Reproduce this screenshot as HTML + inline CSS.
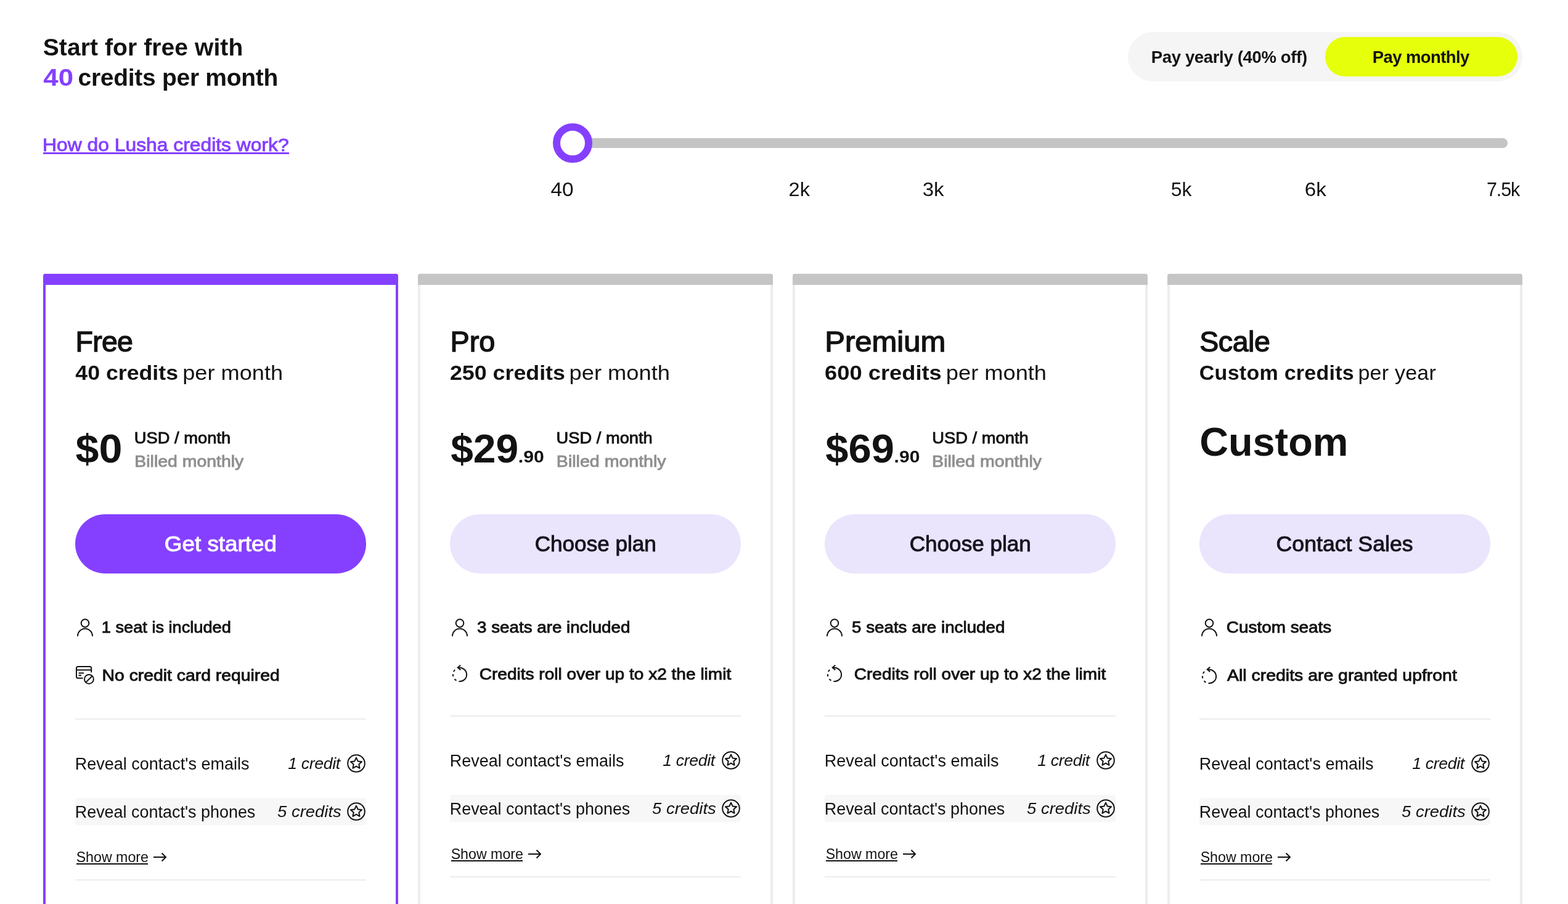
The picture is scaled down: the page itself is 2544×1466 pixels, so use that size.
<!DOCTYPE html>
<html lang="en">
<head>
<meta charset="utf-8">
<title>Lusha pricing</title>
<style>
*{box-sizing:border-box;margin:0;padding:0}
html,body{width:2544px;height:1466px;overflow:hidden;background:#fff}
body{position:relative;font-family:"Liberation Sans",Arial,Helvetica,sans-serif;color:#121212}
.t{position:absolute;white-space:pre;line-height:1;display:block;font-weight:400;font-style:normal;transform-origin:0 0}
.b{font-weight:700}
.m{-webkit-text-stroke:0.9px currentColor}
.m2{-webkit-text-stroke:1.4px currentColor}
.m3{-webkit-text-stroke:0.95px currentColor}
.i{font-style:italic}
.abs{position:absolute}
a{color:inherit;text-decoration:none}
.toggle{position:absolute;left:1830px;top:52px;width:640px;height:80px;border-radius:40px;background:#f5f5f5}
.toggle .on{position:absolute;left:320px;top:8px;width:312px;height:64px;border-radius:32px;background:#e6ff0a}
.track{position:absolute;left:897px;top:224px;width:1549px;height:16px;border-radius:8px;background:#c4c4c4}
.thumb{position:absolute;left:897px;top:200px;width:64px;height:64px;border-radius:50%;border:12px solid #8540ff;background:#fff}
.card{position:absolute;top:444px;width:576px;height:1100px;border-left:4px solid #ededed;border-right:4px solid #ededed;border-radius:4px 4px 0 0}
.card.sel{border-color:#8540ff}
.bar{position:absolute;top:444px;width:576px;height:18px;border-radius:4px 4px 0 0;background:#c5c5c5}
.bar.sel{background:#8540ff}
.btn{position:absolute;top:834px;width:472px;height:96px;border-radius:48px;background:#ebe4fd}
.btn.pri{background:#8540ff}
.hr{position:absolute;width:472px;height:2px;background:#ececec}
.rowbg{position:absolute;width:472px;height:44px;border-radius:4px;background:#f7f7f7}
svg{position:absolute;overflow:visible}
@media (max-width:1400px){html{zoom:.5}}
</style>
</head>
<body>
<header>
<h1>
<span class="t b" style="left:69.74px;top:57.00px;font-size:39px;letter-spacing:0.09px;">Start for free with</span>
<span class="t b" style="left:70px;top:106.00px;font-size:39.5px;color:#8540ff;transform:translateX(0.34px) scaleX(1.1093);">40</span>
<span class="t b" style="left:126.55px;top:106.00px;font-size:39px;letter-spacing:-0.29px;">credits per month</span>
</h1>
<a class="t m" style="left:69px;top:220.01px;font-size:30px;color:#8540ff;transform:translateX(0.08px) scaleX(1.0603);">How do Lusha credits work?</a>
<div class="abs" style="left:70px;top:247px;width:399px;height:3px;background:#8540ff"></div>
<div class="toggle"><div class="on"></div></div>
<span class="t b" style="left:1867.69px;top:79.01px;font-size:27.5px;letter-spacing:-0.34px;">Pay yearly (40% off)</span>
<span class="t b" style="left:2226.69px;top:79.01px;font-size:27.5px;letter-spacing:-0.59px;">Pay monthly</span>
<div class="track"></div><div class="thumb"></div>
<span class="t" style="left:893px;top:292.01px;font-size:30.5px;transform:translateX(0.44px) scaleX(1.0977);">40</span>
<span class="t" style="left:1279px;top:292.01px;font-size:30.5px;transform:translateX(0.57px) scaleX(1.0668);">2k</span>
<span class="t" style="left:1496px;top:292.01px;font-size:30.5px;transform:translateX(0.66px) scaleX(1.0863);">3k</span>
<span class="t" style="left:1899px;top:292.01px;font-size:30.5px;transform:translateX(0.84px) scaleX(1.0477);">5k</span>
<span class="t" style="left:2116px;top:292.01px;font-size:30.5px;transform:translateX(0.68px) scaleX(1.0880);">6k</span>
<span class="t" style="left:2412.01px;top:292.01px;font-size:30.5px;letter-spacing:-1.14px;">7.5k</span>
</header>
<section>
<div class="card sel" style="left:70px"></div><div class="bar sel" style="left:70px"></div>
<h2 class="t m2" style="left:122.46px;top:531.01px;font-size:46.5px;letter-spacing:-0.72px;">Free</h2>
<p>
<b class="t b" style="left:122px;top:587.00px;font-size:34px;transform:translateX(0.27px) scaleX(1.0501);">40 credits</b>
<span class="t" style="left:296px;top:587.00px;font-size:34px;transform:translateX(0.25px) scaleX(1.0638);">per month</span>
</p>
<span class="t b" style="left:122px;top:696.01px;font-size:64px;transform:translateX(0.59px) scaleX(1.0662);">$0</span>
<span class="t m" style="left:217px;top:697.01px;font-size:26.5px;transform:translateX(0.76px) scaleX(1.0311);">USD / month</span>
<span class="t m" style="left:218px;top:735.01px;font-size:26px;color:#8f8f8f;transform:translateX(0.34px) scaleX(1.0933);">Billed monthly</span>
<div class="btn pri" style="left:122px"></div>
<a class="t m3" style="left:266px;top:864.01px;font-size:35px;color:#fff;transform:translateX(0.83px) scaleX(1.0525);">Get started</a>
<svg style="left:124px;top:1002.5px" width="28" height="30" viewBox="0 0 28 30" fill="none" stroke="#121212" stroke-width="2"><circle cx="14" cy="7.6" r="6.3"/><path d="M2 28.700v-.2a12 12 0 0 1 24 0v.2"/></svg>
<span class="t m" style="left:164px;top:1004.01px;font-size:26.5px;transform:translateX(0.79px) scaleX(1.0257);">1 seat is included</span>
<svg style="left:123.2px;top:1080.3px" width="31" height="31" viewBox="0 0 31 31" fill="none" stroke="#121212" stroke-width="2"><path d="M11.500 19.800H3.500A2.500 2.500 0 0 1 1 17.300V3.500A2.500 2.500 0 0 1 3.500 1H22.700A2.500 2.500 0 0 1 25.200 3.500V10.500"/><path d="M1 6.500H25.200"/><path d="M4.500 11.500H13"/><path d="M4.500 15.300H9"/><circle cx="21.400" cy="21.400" r="7.400"/><path d="M16.200 26.600L26.600 16.200"/></svg>
<span class="t m" style="left:165px;top:1082.00px;font-size:26.5px;transform:translateX(0.56px) scaleX(1.0690);">No credit card required</span>
<div class="hr" style="left:122px;top:1165px"></div>
<span class="t" style="left:121.71px;top:1226.00px;font-size:27px;">Reveal contact's emails</span>
<i class="t i" style="left:467.27px;top:1225.00px;font-size:26.7px;letter-spacing:-0.37px;">1 credit</i>
<svg style="left:563px;top:1223px" width="30" height="30" viewBox="0 0 30 30" fill="none" stroke="#121212" stroke-width="2" stroke-linejoin="round"><circle cx="15" cy="15" r="13.800"/><polygon points="15.00,5.60 17.65,11.46 24.04,12.16 19.28,16.49 20.58,22.79 15.00,19.60 9.42,22.79 10.72,16.49 5.96,12.16 12.35,11.46"/></svg>
<div class="rowbg" style="left:122px;top:1294px"></div>
<span class="t" style="left:121px;top:1304.00px;font-size:27px;transform:translateX(0.71px) scaleX(0.9976);">Reveal contact's phones</span>
<i class="t i" style="left:450px;top:1303.01px;font-size:26.7px;transform:translateX(0.12px) scaleX(1.0274);">5 credits</i>
<svg style="left:563px;top:1301px" width="30" height="30" viewBox="0 0 30 30" fill="none" stroke="#121212" stroke-width="2" stroke-linejoin="round"><circle cx="15" cy="15" r="13.800"/><polygon points="15.00,5.60 17.65,11.46 24.04,12.16 19.28,16.49 20.58,22.79 15.00,19.60 9.42,22.79 10.72,16.49 5.96,12.16 12.35,11.46"/></svg>
<a class="t" style="left:123.65px;top:1379.00px;font-size:23.2px;">Show more</a>
<div class="abs" style="left:124px;top:1400px;width:116px;height:2px;background:#121212"></div>
<svg style="left:249px;top:1382px" width="22" height="16" viewBox="0 0 22 16" fill="none" stroke="#121212" stroke-width="2"><path d="M0 8H20"/><path d="M13.500 1.500L20 8L13.500 14.500"/></svg>
<div class="hr" style="left:122px;top:1426px"></div>
</section>
<section>
<div class="card" style="left:678px"></div><div class="bar" style="left:678px"></div>
<h2 class="t m2" style="left:730px;top:531.01px;font-size:46.5px;transform:translateX(0.56px) scaleX(1.0055);">Pro</h2>
<p>
<b class="t b" style="left:729px;top:587.00px;font-size:34px;transform:translateX(0.98px) scaleX(1.0520);">250 credits</b>
<span class="t" style="left:923px;top:587.00px;font-size:34px;transform:translateX(0.49px) scaleX(1.0680);">per month</span>
</p>
<span class="t b" style="left:731px;top:696.01px;font-size:64px;transform:translateX(0.14px) scaleX(1.0308);">$29</span>
<span class="t b" style="left:840px;top:727.00px;font-size:27.3px;transform:translateX(0.87px) scaleX(1.1072);">.90</span>
<span class="t m" style="left:902px;top:697.01px;font-size:26.5px;transform:translateX(0.58px) scaleX(1.0294);">USD / month</span>
<span class="t m" style="left:902px;top:735.01px;font-size:26px;color:#8f8f8f;transform:translateX(0.86px) scaleX(1.0982);">Billed monthly</span>
<div class="btn" style="left:730px"></div>
<a class="t m3" style="left:867px;top:864.01px;font-size:35px;color:#17131f;transform:translateX(0.70px) scaleX(1.0031);">Choose plan</a>
<svg style="left:732px;top:1002.5px" width="28" height="30" viewBox="0 0 28 30" fill="none" stroke="#121212" stroke-width="2"><circle cx="14" cy="7.6" r="6.3"/><path d="M2 28.700v-.2a12 12 0 0 1 24 0v.2"/></svg>
<span class="t m" style="left:774px;top:1004.01px;font-size:26.5px;transform:translateX(0.12px) scaleX(1.0465);">3 seats are included</span>
<svg style="left:729.70px;top:1075.90px" width="32" height="34" viewBox="-16 -18 32 34" fill="none" stroke="#121212" stroke-width="2"><path d="M-3.25 -10.61A11.1 11.1 0 1 1 -1.54 10.99"/><path d="M-5.55 9.61A11.1 11.1 0 0 1 -8.50 7.13"/><path d="M-10.67 3.06A11.1 11.1 0 0 1 -11.07 -0.77"/><path d="M-10.06 -4.69A11.1 11.1 0 0 1 -7.85 -7.85"/><path d="M1.300 -15.300L-3.300 -11.500L1.300 -7.600" stroke-linejoin="miter"/></svg>
<span class="t m" style="left:777px;top:1080.01px;font-size:26.5px;transform:translateX(0.69px) scaleX(1.0588);">Credits roll over up to x2 the limit</span>
<div class="hr" style="left:730px;top:1160px"></div>
<span class="t" style="left:729.71px;top:1221.00px;font-size:27px;">Reveal contact's emails</span>
<i class="t i" style="left:1075.27px;top:1220.00px;font-size:26.7px;letter-spacing:-0.37px;">1 credit</i>
<svg style="left:1171px;top:1218px" width="30" height="30" viewBox="0 0 30 30" fill="none" stroke="#121212" stroke-width="2" stroke-linejoin="round"><circle cx="15" cy="15" r="13.800"/><polygon points="15.00,5.60 17.65,11.46 24.04,12.16 19.28,16.49 20.58,22.79 15.00,19.60 9.42,22.79 10.72,16.49 5.96,12.16 12.35,11.46"/></svg>
<div class="rowbg" style="left:730px;top:1289px"></div>
<span class="t" style="left:729px;top:1299.00px;font-size:27px;transform:translateX(0.71px) scaleX(0.9976);">Reveal contact's phones</span>
<i class="t i" style="left:1058px;top:1298.01px;font-size:26.7px;transform:translateX(0.12px) scaleX(1.0274);">5 credits</i>
<svg style="left:1171px;top:1296px" width="30" height="30" viewBox="0 0 30 30" fill="none" stroke="#121212" stroke-width="2" stroke-linejoin="round"><circle cx="15" cy="15" r="13.800"/><polygon points="15.00,5.60 17.65,11.46 24.04,12.16 19.28,16.49 20.58,22.79 15.00,19.60 9.42,22.79 10.72,16.49 5.96,12.16 12.35,11.46"/></svg>
<a class="t" style="left:731.65px;top:1374.00px;font-size:23.2px;">Show more</a>
<div class="abs" style="left:732px;top:1395px;width:116px;height:2px;background:#121212"></div>
<svg style="left:857px;top:1377px" width="22" height="16" viewBox="0 0 22 16" fill="none" stroke="#121212" stroke-width="2"><path d="M0 8H20"/><path d="M13.500 1.500L20 8L13.500 14.500"/></svg>
<div class="hr" style="left:730px;top:1421px"></div>
</section>
<section>
<div class="card" style="left:1286px"></div><div class="bar" style="left:1286px"></div>
<h2 class="t m2" style="left:1338px;top:531.01px;font-size:46.5px;transform:translateX(0.26px) scaleX(1.0540);">Premium</h2>
<p>
<b class="t b" style="left:1338px;top:587.00px;font-size:34px;transform:translateX(0.05px) scaleX(1.0678);">600 credits</b>
<span class="t" style="left:1534px;top:587.00px;font-size:34px;transform:translateX(0.83px) scaleX(1.0661);">per month</span>
</p>
<span class="t b" style="left:1339px;top:696.01px;font-size:64px;transform:translateX(0.26px) scaleX(1.0450);">$69</span>
<span class="t b" style="left:1450px;top:727.00px;font-size:27.3px;transform:translateX(0.62px) scaleX(1.0990);">.90</span>
<span class="t m" style="left:1512px;top:697.01px;font-size:26.5px;transform:translateX(0.36px) scaleX(1.0308);">USD / month</span>
<span class="t m" style="left:1512px;top:735.01px;font-size:26px;color:#8f8f8f;transform:translateX(0.06px) scaleX(1.0997);">Billed monthly</span>
<div class="btn" style="left:1338px"></div>
<a class="t m3" style="left:1475px;top:864.01px;font-size:35px;color:#17131f;transform:translateX(0.70px) scaleX(1.0031);">Choose plan</a>
<svg style="left:1340px;top:1002.5px" width="28" height="30" viewBox="0 0 28 30" fill="none" stroke="#121212" stroke-width="2"><circle cx="14" cy="7.6" r="6.3"/><path d="M2 28.700v-.2a12 12 0 0 1 24 0v.2"/></svg>
<span class="t m" style="left:1382px;top:1004.01px;font-size:26.5px;transform:translateX(0.01px) scaleX(1.0472);">5 seats are included</span>
<svg style="left:1337.70px;top:1075.90px" width="32" height="34" viewBox="-16 -18 32 34" fill="none" stroke="#121212" stroke-width="2"><path d="M-3.25 -10.61A11.1 11.1 0 1 1 -1.54 10.99"/><path d="M-5.55 9.61A11.1 11.1 0 0 1 -8.50 7.13"/><path d="M-10.67 3.06A11.1 11.1 0 0 1 -11.07 -0.77"/><path d="M-10.06 -4.69A11.1 11.1 0 0 1 -7.85 -7.85"/><path d="M1.300 -15.300L-3.300 -11.500L1.300 -7.600" stroke-linejoin="miter"/></svg>
<span class="t m" style="left:1385px;top:1080.01px;font-size:26.5px;transform:translateX(0.69px) scaleX(1.0588);">Credits roll over up to x2 the limit</span>
<div class="hr" style="left:1338px;top:1160px"></div>
<span class="t" style="left:1337.71px;top:1221.00px;font-size:27px;">Reveal contact's emails</span>
<i class="t i" style="left:1683.27px;top:1220.00px;font-size:26.7px;letter-spacing:-0.37px;">1 credit</i>
<svg style="left:1779px;top:1218px" width="30" height="30" viewBox="0 0 30 30" fill="none" stroke="#121212" stroke-width="2" stroke-linejoin="round"><circle cx="15" cy="15" r="13.800"/><polygon points="15.00,5.60 17.65,11.46 24.04,12.16 19.28,16.49 20.58,22.79 15.00,19.60 9.42,22.79 10.72,16.49 5.96,12.16 12.35,11.46"/></svg>
<div class="rowbg" style="left:1338px;top:1289px"></div>
<span class="t" style="left:1337px;top:1299.00px;font-size:27px;transform:translateX(0.71px) scaleX(0.9976);">Reveal contact's phones</span>
<i class="t i" style="left:1666px;top:1298.01px;font-size:26.7px;transform:translateX(0.12px) scaleX(1.0274);">5 credits</i>
<svg style="left:1779px;top:1296px" width="30" height="30" viewBox="0 0 30 30" fill="none" stroke="#121212" stroke-width="2" stroke-linejoin="round"><circle cx="15" cy="15" r="13.800"/><polygon points="15.00,5.60 17.65,11.46 24.04,12.16 19.28,16.49 20.58,22.79 15.00,19.60 9.42,22.79 10.72,16.49 5.96,12.16 12.35,11.46"/></svg>
<a class="t" style="left:1339.65px;top:1374.00px;font-size:23.2px;">Show more</a>
<div class="abs" style="left:1340px;top:1395px;width:116px;height:2px;background:#121212"></div>
<svg style="left:1465px;top:1377px" width="22" height="16" viewBox="0 0 22 16" fill="none" stroke="#121212" stroke-width="2"><path d="M0 8H20"/><path d="M13.500 1.500L20 8L13.500 14.500"/></svg>
<div class="hr" style="left:1338px;top:1421px"></div>
</section>
<section>
<div class="card" style="left:1894px"></div><div class="bar" style="left:1894px"></div>
<h2 class="t m2" style="left:1946.28px;top:531.01px;font-size:46.5px;letter-spacing:-0.44px;">Scale</h2>
<p>
<b class="t b" style="left:1945.78px;top:587.00px;font-size:34px;letter-spacing:0.27px;">Custom credits</b>
<span class="t" style="left:2203.38px;top:587.00px;font-size:34px;letter-spacing:0.24px;">per year</span>
</p>
<span class="t b" style="left:1946px;top:684.01px;font-size:65px;transform:translateX(0.20px) scaleX(0.9969);">Custom</span>
<div class="btn" style="left:1946px"></div>
<a class="t m3" style="left:2070px;top:864.01px;font-size:35px;color:#17131f;transform:translateX(0.57px) scaleX(1.0188);">Contact Sales</a>
<svg style="left:1948px;top:1002.5px" width="28" height="30" viewBox="0 0 28 30" fill="none" stroke="#121212" stroke-width="2"><circle cx="14" cy="7.6" r="6.3"/><path d="M2 28.700v-.2a12 12 0 0 1 24 0v.2"/></svg>
<span class="t m" style="left:1989px;top:1004.01px;font-size:26.5px;transform:translateX(0.85px) scaleX(1.0519);">Custom seats</span>
<svg style="left:1945.80px;top:1079.00px" width="32" height="34" viewBox="-16 -18 32 34" fill="none" stroke="#121212" stroke-width="2"><path d="M-3.25 -10.61A11.1 11.1 0 1 1 -1.54 10.99"/><path d="M-5.55 9.61A11.1 11.1 0 0 1 -8.50 7.13"/><path d="M-10.67 3.06A11.1 11.1 0 0 1 -11.07 -0.77"/><path d="M-10.06 -4.69A11.1 11.1 0 0 1 -7.85 -7.85"/><path d="M1.300 -15.300L-3.300 -11.500L1.300 -7.600" stroke-linejoin="miter"/></svg>
<span class="t m" style="left:1991px;top:1082.00px;font-size:26.5px;transform:translateX(0.11px) scaleX(1.0721);">All credits are granted upfront</span>
<div class="hr" style="left:1946px;top:1165px"></div>
<span class="t" style="left:1945.71px;top:1226.00px;font-size:27px;">Reveal contact's emails</span>
<i class="t i" style="left:2291.27px;top:1225.00px;font-size:26.7px;letter-spacing:-0.37px;">1 credit</i>
<svg style="left:2387px;top:1223px" width="30" height="30" viewBox="0 0 30 30" fill="none" stroke="#121212" stroke-width="2" stroke-linejoin="round"><circle cx="15" cy="15" r="13.800"/><polygon points="15.00,5.60 17.65,11.46 24.04,12.16 19.28,16.49 20.58,22.79 15.00,19.60 9.42,22.79 10.72,16.49 5.96,12.16 12.35,11.46"/></svg>
<div class="rowbg" style="left:1946px;top:1294px"></div>
<span class="t" style="left:1945px;top:1304.00px;font-size:27px;transform:translateX(0.71px) scaleX(0.9976);">Reveal contact's phones</span>
<i class="t i" style="left:2274px;top:1303.01px;font-size:26.7px;transform:translateX(0.12px) scaleX(1.0274);">5 credits</i>
<svg style="left:2387px;top:1301px" width="30" height="30" viewBox="0 0 30 30" fill="none" stroke="#121212" stroke-width="2" stroke-linejoin="round"><circle cx="15" cy="15" r="13.800"/><polygon points="15.00,5.60 17.65,11.46 24.04,12.16 19.28,16.49 20.58,22.79 15.00,19.60 9.42,22.79 10.72,16.49 5.96,12.16 12.35,11.46"/></svg>
<a class="t" style="left:1947.65px;top:1379.00px;font-size:23.2px;">Show more</a>
<div class="abs" style="left:1948px;top:1400px;width:116px;height:2px;background:#121212"></div>
<svg style="left:2073px;top:1382px" width="22" height="16" viewBox="0 0 22 16" fill="none" stroke="#121212" stroke-width="2"><path d="M0 8H20"/><path d="M13.500 1.500L20 8L13.500 14.500"/></svg>
<div class="hr" style="left:1946px;top:1426px"></div>
</section>
</body>
</html>
